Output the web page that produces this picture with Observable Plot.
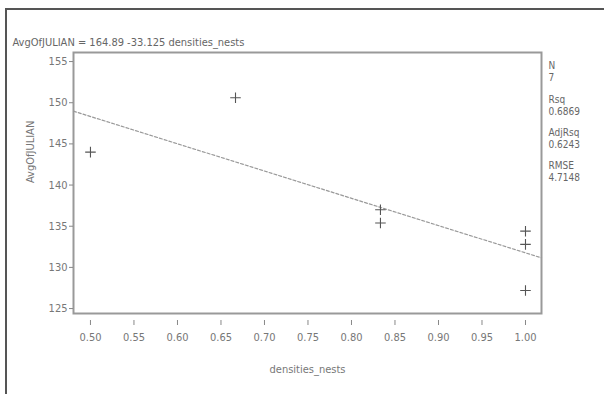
<!DOCTYPE html>
<html><head><meta charset="utf-8">
<script src="https://cdn.jsdelivr.net/npm/d3@7"></script>
<script src="https://cdn.jsdelivr.net/npm/@observablehq/plot@0.6"></script>
<style>
body{margin:0;background:#fff;}
#wrap{position:relative;width:604px;height:394px;overflow:hidden;}
#border{position:absolute;left:5px;top:8px;width:700px;height:500px;border:2px solid #555;}
#chart{position:absolute;left:0;top:0;}
#chart text{font-stretch:condensed;}
</style></head>
<body><div id="wrap"><div id="border"></div><div id="chart"></div></div>
<script>
const densities = [0.5, 0.6667, 0.8333, 0.8333, 1.0, 1.0, 1.0];
const julian = [144.0, 150.6, 137.0, 135.4, 134.4, 132.8, 127.2];
const intercept = 164.89, slope = -33.125;
const title = "AvgOfJULIAN = 164.89 -33.125 densities_nests";
const statLabels = ["N", "7", "Rsq", "0.6869", "AdjRsq", "0.6243", "RMSE", "4.7148"];
const xTicks = [0.50,0.55,0.60,0.65,0.70,0.75,0.80,0.85,0.90,0.95,1.00];
const yTicks = [125,130,135,140,145,150,155];
const xDomain = [0.4805, 1.0184], yDomain = [124.4, 156.1];

const pts = densities.map((d,i)=>({x:d,y:julian[i]}));
const fit = xDomain.map(x=>({x, y: intercept + slope*x}));
const font = "'DejaVu Sans Condensed','DejaVu Sans',sans-serif";
const statDy = [9,21,43,55,76,88,109,121];

const plot = Plot.plot({
  width:604, height:394,
  marginLeft:73, marginRight:63, marginTop:52, marginBottom:81,
  style:{fontFamily:font, fontSize:"11px", color:"#555", background:"transparent"},
  x:{domain:xDomain},
  y:{domain:yDomain},
  marks:[
    Plot.frame({stroke:"#999", strokeWidth:2}),
    Plot.axisY({ticks:yTicks, tickFormat:d=>d, tickSize:4, tickPadding:2, stroke:"#888", fill:"#777", label:null}),
    Plot.axisX({ticks:xTicks, tickFormat:d3.format(".2f"), tickSize:5, dy:7, tickPadding:8, stroke:"#888", fill:"#777", label:null}),
    Plot.text(["densities_nests"], {frameAnchor:"bottom", dy:59, fill:"#777", fontSize:11}),
    Plot.text(["AvgOfJULIAN"], {frameAnchor:"left", dx:-43, rotate:-90, fill:"#777", fontSize:11}),
    Plot.text([title], {frameAnchor:"top-left", dx:-61, dy:-14, textAnchor:"start", fill:"#666", fontSize:11}),
    ...statLabels.map((t,i)=>Plot.text([t], {frameAnchor:"top-right", textAnchor:"start", dx:7, dy:statDy[i], fill:"#666", fontSize:10})),
    Plot.line(fit, {x:"x", y:"y", stroke:"#999", strokeWidth:1.2, strokeDasharray:"3,2"}),
    Plot.dot(pts, {x:"x", y:"y", symbol:"plus", r:3.5, stroke:"#555", strokeWidth:1.1})
  ]
});
document.getElementById("chart").append(plot);
</script>
</body></html>
